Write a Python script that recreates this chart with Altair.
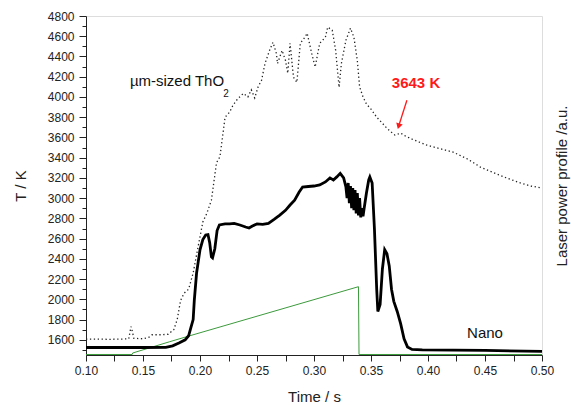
import altair as alt
import pandas as pd

# ---------------- data ----------------
thO2_t = [0.100, 0.110, 0.120, 0.130, 0.1375, 0.1395, 0.1405, 0.142, 0.150, 0.155,
          0.158, 0.165, 0.172, 0.177, 0.180, 0.183, 0.186, 0.190, 0.194, 0.198,
          0.2025, 0.206, 0.210, 0.2145, 0.2175, 0.222, 0.226, 0.229, 0.233, 0.238,
          0.242, 0.245, 0.248, 0.251, 0.254, 0.257, 0.261, 0.264, 0.267, 0.268,
          0.272, 0.275, 0.277, 0.279, 0.282, 0.285, 0.288, 0.292, 0.294, 0.298,
          0.301, 0.305, 0.310, 0.312, 0.316, 0.319, 0.322, 0.324, 0.328, 0.332,
          0.335, 0.338, 0.340, 0.343, 0.346, 0.350, 0.355, 0.360, 0.364, 0.368,
          0.371, 0.373, 0.376, 0.380, 0.386, 0.392, 0.399, 0.410, 0.422, 0.435,
          0.446, 0.460, 0.470, 0.481, 0.490, 0.500]
thO2_T = [1607, 1607, 1605, 1607, 1610, 1730, 1690, 1615, 1610, 1625,
          1650, 1650, 1655, 1700, 1800, 1990, 2060, 2100, 2260, 2500,
          2765, 2850, 2980, 3350, 3410, 3800, 3850, 3920, 3980, 4035,
          4000, 4070, 3990, 4100, 4165, 4330, 4460, 4540, 4430, 4330,
          4460, 4360, 4235, 4530, 4195, 4145, 4530, 4590, 4630, 4430,
          4295, 4530, 4590, 4690, 4660, 4460, 4095, 4330, 4560, 4680,
          4590, 4360, 4100, 4000, 3930, 3880, 3800, 3740, 3690, 3650,
          3623, 3630, 3643, 3615, 3583, 3555, 3524, 3490, 3455, 3385,
          3307, 3240, 3195, 3150, 3120, 3100]

nano_t = [0.100, 0.150, 0.170, 0.176, 0.182, 0.187, 0.190, 0.192, 0.194, 0.195,
          0.197, 0.200, 0.2025, 0.205, 0.207, 0.2085, 0.210, 0.211, 0.213, 0.215,
          0.217, 0.222, 0.226, 0.230, 0.235, 0.240, 0.243, 0.246, 0.250, 0.255,
          0.260, 0.265, 0.270, 0.275, 0.279, 0.283, 0.287, 0.290, 0.295, 0.300,
          0.305, 0.310, 0.314, 0.317, 0.320, 0.323, 0.326, 0.328, 0.329, 0.330,
          0.331, 0.332, 0.333, 0.334, 0.335, 0.336, 0.337, 0.338, 0.339, 0.340,
          0.341, 0.342, 0.343, 0.344, 0.346, 0.348, 0.349, 0.351, 0.353, 0.355,
          0.356, 0.358, 0.360, 0.362, 0.364, 0.366, 0.368, 0.370, 0.373, 0.376,
          0.379, 0.382, 0.386, 0.395, 0.450, 0.500]
nano_T = [1524, 1524, 1525, 1540, 1570, 1600, 1640, 1720, 1800, 1990,
          2260, 2490, 2590, 2636, 2640, 2560, 2420, 2410, 2500, 2680,
          2735, 2745, 2745, 2750, 2735, 2715, 2705, 2725, 2745, 2740,
          2750, 2790, 2833, 2880, 2932, 2980, 3060, 3110, 3115, 3120,
          3130, 3160, 3200, 3180, 3210, 3245, 3200, 3110, 3000, 3150,
          2950, 3120, 2900, 3100, 2880, 3080, 2850, 3050, 2830, 3000,
          2810, 2900, 2820, 2900, 3050, 3180, 3210, 3150, 2700, 2100,
          1880, 1950, 2300, 2490, 2450, 2330, 2100, 1980, 1880, 1760,
          1610, 1530, 1505, 1500, 1495, 1485]

laser_t = [0.100, 0.1405, 0.141, 0.173, 0.191, 0.339, 0.3395, 0.500]
laser_T = [1455, 1455, 1470, 1580, 1640, 2125, 1455, 1455]

y_ticks = list(range(1500, 4801, 100))
x_ticks = [round(0.10 + 0.025 * i, 3) for i in range(17)]

ann_text = ["\u00b5m-sized ThO", "2", "3643 K", "Nano"]
ann_t = [0.1385, 0.2205, 0.3895, 0.4500]
ann_T = [4160, 4030, 4140, 1670]

arrow_t = [0.3815, 0.3745]
arrow_T = [3968, 3720]

FONT = "Liberation Sans"

thO2 = pd.DataFrame({"t": thO2_t, "T": thO2_T})
nano = pd.DataFrame({"t": nano_t, "T": nano_T})
laser = pd.DataFrame({"t": laser_t, "T": laser_T})
arrow = pd.DataFrame({"t": arrow_t, "T": arrow_T})

xs = alt.Scale(domain=[0.10, 0.50], nice=False, zero=False)
ys = alt.Scale(domain=[1450, 4800], nice=False, zero=False)

x_axis = alt.Axis(
    values=x_ticks, format=".2f",
    labelExpr="round(datum.value*1000) % 50 === 0 ? datum.label : ''",
    tickSize=6, labelFontSize=12, labelFont=FONT, labelColor="#222",
    labelPadding=4, title="Time / s", titleFont=FONT, titleFontSize=15,
    titleFontWeight="normal", titleColor="#222", titlePadding=13,
    grid=False, domainColor="#222", tickColor="#222", labelFlush=False,
)
y_axis = alt.Axis(
    values=y_ticks, format="d",
    labelExpr="datum.value % 200 === 0 ? datum.label : ''",
    tickSize={"condition": {"test": "datum.value % 200 === 0", "value": 7}, "value": 4},
    labelFontSize=12, labelFont=FONT, labelColor="#222", labelPadding=5,
    title="T / K", titleFont=FONT, titleFontSize=15, titleFontWeight="normal",
    titleColor="#222", titlePadding=19, grid=False, domainColor="#222",
    tickColor="#222", labelFlush=False,
)

X = alt.X("t:Q", scale=xs, axis=x_axis)
Y = alt.Y("T:Q", scale=ys, axis=y_axis)

laser_line = alt.Chart(laser).mark_line(color="#3c9a3c", strokeWidth=1).encode(x=X, y=Y)
thO2_line = alt.Chart(thO2).mark_line(
    color="#222", strokeWidth=1.3, strokeDash=[1.3, 2.6]
).encode(x=X, y=Y)
nano_line = alt.Chart(nano).mark_line(color="#000", strokeWidth=2.8).encode(x=X, y=Y)

labels = []
styles = [
    dict(fontSize=15, color="#111", align="left"),
    dict(fontSize=10, color="#111", align="left"),
    dict(fontSize=15, color="#ff1a1a", fontWeight="bold", align="center"),
    dict(fontSize=15, color="#111", align="center"),
]
for txt, tt, TT, st in zip(ann_text, ann_t, ann_T, styles):
    d = pd.DataFrame({"t": [tt], "T": [TT], "label": [txt]})
    labels.append(
        alt.Chart(d).mark_text(font=FONT, baseline="middle", **st).encode(
            x=X, y=Y, text="label:N"
        )
    )

arrow_line = alt.Chart(arrow).mark_line(color="#ff1a1a", strokeWidth=1.3).encode(x=X, y=Y)
arrow_head = alt.Chart(arrow.iloc[[1]]).mark_point(
    shape="triangle", angle=197, filled=True, color="#ff1a1a", size=45, opacity=1
).encode(x=X, y=Y)

right_title = alt.Chart(pd.DataFrame({"label": ["Laser power profile /a.u."]})).mark_text(
    font=FONT, fontSize=15, angle=270, align="center", baseline="middle", color="#222"
).encode(x=alt.value(476), y=alt.value(170), text="label:N")

chart = alt.layer(
    laser_line, thO2_line, nano_line, *labels, arrow_line, arrow_head, right_title
).properties(
    width=456, height=339,
    autosize=alt.AutoSizeParams(type="none"),
    padding={"left": 86, "top": 16, "right": 29, "bottom": 50},
).configure_view(stroke="#444", strokeWidth=1.2).configure(background="white")

chart.save("out.html", embed_options={"renderer": "svg", "actions": False})
